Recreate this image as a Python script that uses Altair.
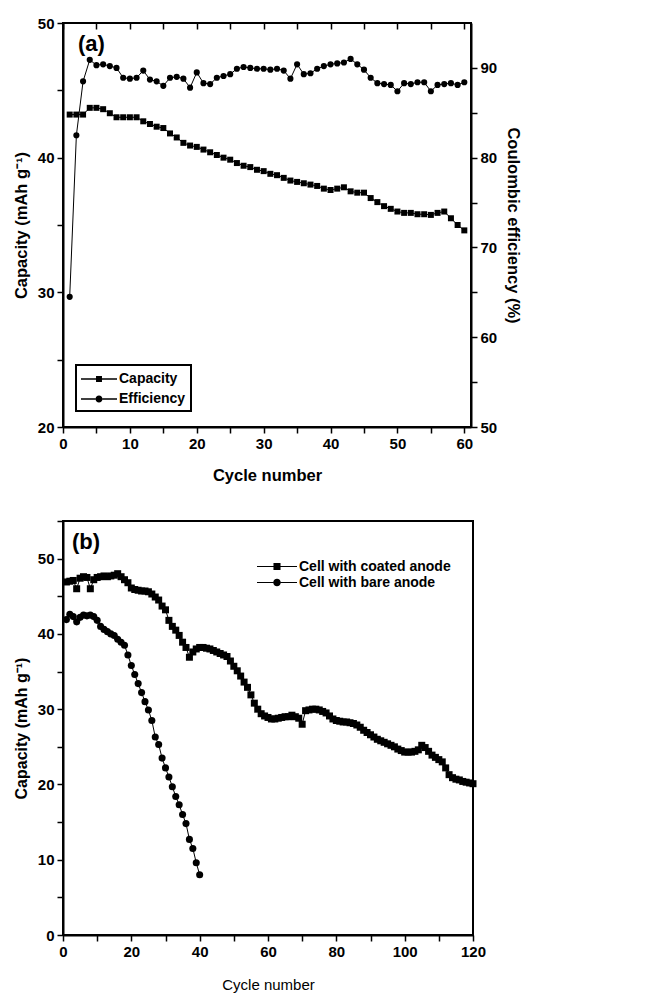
import altair as alt
import pandas as pd

FONT = "Liberation Sans"

# ---------------- Panel (a) data ----------------
cycle_a = list(range(1, 61))
capacity_a = [43.2, 43.2, 43.2, 43.7, 43.7, 43.6, 43.3, 43.0, 43.0, 43.0,
              43.0, 42.7, 42.5, 42.3, 42.2, 41.8, 41.5, 41.1, 40.9, 40.8,
              40.6, 40.4, 40.2, 40.0, 39.85, 39.6, 39.4, 39.3, 39.1, 39.0,
              38.8, 38.7, 38.5, 38.3, 38.2, 38.1, 38.0, 37.9, 37.7, 37.6,
              37.7, 37.8, 37.5, 37.4, 37.4, 37.0, 36.7, 36.4, 36.2, 36.0,
              35.9, 35.9, 35.8, 35.8, 35.75, 35.9, 36.0, 35.5, 35.0, 34.6]
efficiency_a = [64.5, 82.5, 88.5, 90.9, 90.3, 90.4, 90.2, 90.0, 88.9, 88.8,
                88.9, 89.7, 88.7, 88.5, 88.0, 88.9, 89.0, 88.8, 87.8, 89.5,
                88.3, 88.2, 88.9, 89.1, 89.3, 89.9, 90.1, 90.0, 89.9, 89.9,
                89.8, 89.9, 89.7, 88.8, 90.4, 89.3, 89.4, 89.9, 90.2, 90.4,
                90.5, 90.6, 91.0, 90.4, 89.8, 88.9, 88.3, 88.2, 88.1, 87.4,
                88.3, 88.2, 88.4, 88.4, 87.4, 88.1, 88.2, 88.3, 88.1, 88.4]
series_a = ["Capacity", "Efficiency"]

# ---------------- Panel (b) data ----------------
cycle_coated = list(range(1, 121))
coated_b = [46.9, 47.0, 47.1, 46.0, 47.4, 47.6, 47.5, 46.0, 47.2, 47.5,
            47.6, 47.7, 47.6, 47.7, 47.8, 48.0, 47.6, 47.2, 46.8, 46.1,
            45.9, 45.8, 45.7, 45.7, 45.6, 45.3, 44.9, 44.5, 43.7, 43.2,
            41.8, 41.0, 40.5, 39.8, 38.9, 38.2, 36.9, 37.6, 38.0, 38.2,
            38.2, 38.1, 38.0, 37.8, 37.6, 37.4, 37.2, 37.0, 36.4, 35.7,
            35.1, 34.4, 33.6, 32.9, 31.9, 30.8, 30.0, 29.4, 29.1, 28.9,
            28.7, 28.7, 28.8, 28.9, 29.0, 29.0, 29.2, 29.0, 28.8, 28.0,
            29.8, 29.9, 30.0, 30.0, 29.9, 29.7, 29.5, 29.1, 28.7, 28.5,
            28.4, 28.3, 28.3, 28.2, 28.1, 27.9, 27.6, 27.2, 26.9, 26.6,
            26.3, 26.0, 25.8, 25.6, 25.4, 25.2, 25.0, 24.7, 24.5, 24.3,
            24.3, 24.3, 24.4, 24.6, 25.2, 24.9, 24.4, 23.9, 23.6, 23.3,
            23.0, 22.2, 21.3, 20.9, 20.7, 20.6, 20.4, 20.3, 20.2, 20.1]
cycle_bare = list(range(1, 41))
bare_b = [41.9, 42.6, 42.3, 41.6, 42.2, 42.5, 42.4, 42.5, 42.3, 41.8,
          41.0, 40.6, 40.3, 40.0, 39.8, 39.3, 38.9, 38.5, 37.2, 35.8,
          34.6, 33.4, 32.2, 31.0, 29.9, 28.5, 26.3, 25.3, 23.5, 22.2,
          21.0, 19.7, 18.4, 17.3, 16.0, 14.8, 12.7, 11.5, 9.6, 8.0]
series_b = ["Cell with coated anode", "Cell with bare anode"]

df_cap = pd.DataFrame({"cycle": cycle_a, "value": capacity_a, "series": series_a[0]})
df_eff = pd.DataFrame({"cycle": cycle_a, "value": efficiency_a, "series": series_a[1]})
df_coated = pd.DataFrame({"cycle": cycle_coated, "value": coated_b, "series": series_b[0]})
df_bare = pd.DataFrame({"cycle": cycle_bare, "value": bare_b, "series": series_b[1]})

# legend symbols: thin bar - marker - thin bar (all filled areas)
SQ_A = ("M-2,-0.07H-0.33V0.07H-2Z M0.33,-0.07H2V0.07H0.33Z "
        "M-0.33,-0.33H0.33V0.33H-0.33Z")
CI_A = ("M-2,-0.07H-0.39V0.07H-2Z M0.39,-0.07H2V0.07H0.39Z "
        "M-0.39,0A0.39,0.39 0 1,0 0.39,0A0.39,0.39 0 1,0 -0.39,0Z")
SQ_B = ("M-2.67,-0.08H-0.47V0.08H-2.67Z M0.47,-0.08H2.67V0.08H0.47Z "
        "M-0.47,-0.47H0.47V0.47H-0.47Z")
CI_B = ("M-2.67,-0.08H-0.5V0.08H-2.67Z M0.5,-0.08H2.67V0.08H0.5Z "
        "M-0.5,0A0.5,0.5 0 1,0 0.5,0A0.5,0.5 0 1,0 -0.5,0Z")

lab10 = "datum.value % 10 === 0 ? datum.label : ''"
lab20 = "datum.value % 20 === 0 ? datum.label : ''"

# ---------------- Panel (a) ----------------
xs_a = alt.Scale(domain=[0, 61], nice=False, zero=False)
x_a = alt.X("cycle:Q", scale=xs_a,
            axis=alt.Axis(orient="bottom", values=list(range(0, 61, 5)), labelExpr=lab10,
                          title="Cycle number", titleFontSize=16.5, titlePadding=16))
x_a_top = alt.X("cycle:Q", scale=xs_a,
                axis=alt.Axis(orient="top", values=list(range(0, 61, 5)), labels=False,
                              title=None, domain=False, offset=-6, tickSize=6))
y_a_left = alt.Y("value:Q", scale=alt.Scale(domain=[20, 50], nice=False, zero=False),
                 axis=alt.Axis(orient="left", values=list(range(20, 51, 5)), labelExpr=lab10,
                               title="Capacity (mAh g\u207b\u00b9)", titleFontSize=16.5,
                               titlePadding=8))
y_a_right = alt.Y("value:Q", scale=alt.Scale(domain=[50, 95], nice=False, zero=False),
                  axis=alt.Axis(orient="right", values=list(range(50, 91, 5)), labelExpr=lab10,
                                title="Coulombic efficiency (%)", titleFontSize=16.5,
                                titlePadding=8))

legend_a = alt.Legend(title=None, orient="none", legendX=13, legendY=342,
                      strokeColor="black", padding=5, symbolSize=324, symbolOffset=9,
                      symbolFillColor="black", symbolStrokeColor="black",
                      symbolStrokeWidth=0, symbolOpacity=1, labelFont=FONT,
                      labelFontSize=14, labelFontWeight="bold", labelColor="black",
                      rowPadding=4, labelOffset=11)

cap_line = alt.Chart(df_cap).mark_line(color="black", strokeWidth=1).encode(x=x_a, y=y_a_left)
cap_pts = alt.Chart(df_cap).mark_point(shape="square", filled=True, color="black",
                                       size=36, opacity=1).encode(x=x_a, y=y_a_left)
cap_leg = alt.Chart(df_cap).mark_point(opacity=0, filled=True, color="black").encode(
    x=x_a, y=y_a_left,
    shape=alt.Shape("series:N", scale=alt.Scale(domain=series_a, range=[SQ_A, CI_A]),
                    legend=legend_a))
label_a = alt.Chart(pd.DataFrame({"t": ["(a)"]})).mark_text(
    font=FONT, fontSize=22, fontWeight="bold", align="left", baseline="alphabetic",
    color="black").encode(text="t:N", x=alt.value(15), y=alt.value(28))

eff_line = alt.Chart(df_eff).mark_line(color="black", strokeWidth=1).encode(x=x_a_top, y=y_a_right)
eff_pts = alt.Chart(df_eff).mark_point(shape="circle", filled=True, color="black",
                                       size=38, opacity=1).encode(x=x_a_top, y=y_a_right)

panel_a = alt.layer(
    alt.layer(cap_line, cap_pts, cap_leg, label_a),
    alt.layer(eff_line, eff_pts),
).resolve_scale(y="independent").resolve_axis(x="independent").properties(width=408, height=404)

# ---------------- Panel (b) ----------------
x_b = alt.X("cycle:Q", scale=alt.Scale(domain=[0, 120], nice=False, zero=False),
            axis=alt.Axis(values=list(range(0, 121, 10)), labelExpr=lab20,
                          title="Cycle number", titleFontSize=15, titleFontWeight="normal",
                          titlePadding=18))
y_b = alt.Y("value:Q", scale=alt.Scale(domain=[0, 55], nice=False, zero=False),
            axis=alt.Axis(values=list(range(0, 56, 5)), labelExpr=lab10,
                          title="Capacity (mAh g\u207b\u00b9)", titleFontSize=16,
                          titlePadding=8))

legend_b = alt.Legend(title=None, orient="none", legendX=194, legendY=38, padding=0,
                      symbolSize=225, symbolOffset=12.5, symbolFillColor="black",
                      symbolStrokeColor="black", symbolStrokeWidth=0, symbolOpacity=1,
                      labelFont=FONT, labelFontSize=14, labelFontWeight="bold",
                      labelColor="black", rowPadding=1, labelOffset=14.5)

coat_line = alt.Chart(df_coated).mark_line(color="black", strokeWidth=1).encode(x=x_b, y=y_b)
coat_pts = alt.Chart(df_coated).mark_point(shape="square", filled=True, color="black",
                                           size=49, opacity=1).encode(x=x_b, y=y_b)
bare_line = alt.Chart(df_bare).mark_line(color="black", strokeWidth=1).encode(x=x_b, y=y_b)
bare_pts = alt.Chart(df_bare).mark_point(shape="circle", filled=True, color="black",
                                         size=50, opacity=1).encode(x=x_b, y=y_b)
leg_b = alt.Chart(df_coated).mark_point(opacity=0, filled=True, color="black").encode(
    x=x_b, y=y_b,
    shape=alt.Shape("series:N", scale=alt.Scale(domain=series_b, range=[SQ_B, CI_B]),
                    legend=legend_b))
label_b = alt.Chart(pd.DataFrame({"t": ["(b)"]})).mark_text(
    font=FONT, fontSize=22, fontWeight="bold", align="left", baseline="alphabetic",
    color="black").encode(text="t:N", x=alt.value(9), y=alt.value(28))

panel_b = alt.layer(coat_line, coat_pts, bare_line, bare_pts, leg_b, label_b).properties(
    width=410, height=414)

chart = alt.vconcat(panel_a, panel_b, spacing=28).resolve_scale(
    shape="independent"
).resolve_legend(shape="independent").properties(
    padding={"left": 12, "top": 15, "right": 5, "bottom": 0}
).configure(background="white").configure_view(
    stroke="black", strokeWidth=2
).configure_axis(
    domainColor="black", domainWidth=2, tickColor="black", tickWidth=1.5, tickSize=6,
    labelFont=FONT, labelFontSize=15, labelFontWeight="bold", labelColor="black",
    labelPadding=3, titleFont=FONT, titleFontWeight="bold", titleColor="black",
    grid=False, labelOverlap=False, labelFlush=False
).configure_legend(strokeWidth=2)

chart.save("out.html", embed_options={"renderer": "svg", "actions": False})
